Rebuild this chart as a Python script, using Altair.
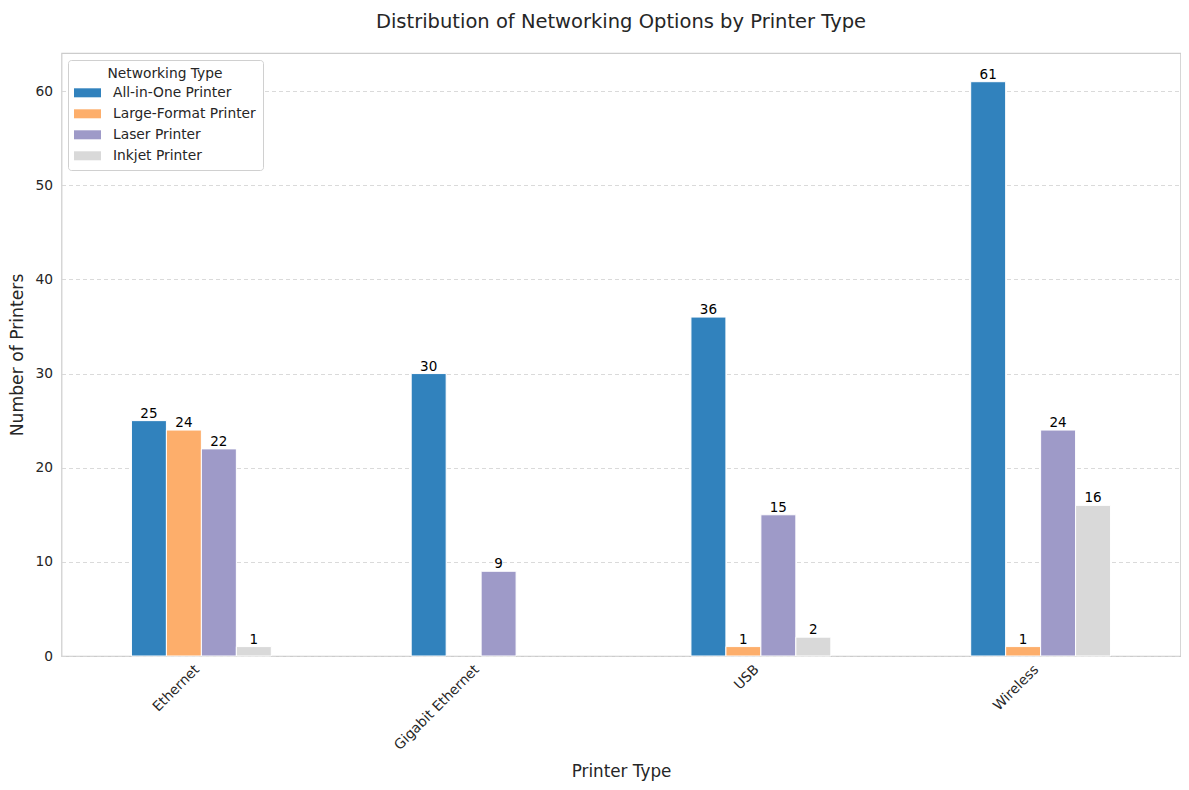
import pandas as pd
import altair as alt

# Data
connection_types = ["Ethernet", "Gigabit Ethernet", "USB", "Wireless"]
printer_types = ["All-in-One Printer", "Large-Format Printer", "Laser Printer", "Inkjet Printer"]
colors = ["#3182bd", "#fdae6b", "#9e9ac8", "#d9d9d9"]

all_in_one = [25, 30, 36, 61]
large_format = [24, None, 1, 1]
laser = [22, 9, 15, 24]
inkjet = [1, None, 2, 16]

# Build long table, drop the missing (empty) groups
rows = []
for name, values in zip(printer_types, [all_in_one, large_format, laser, inkjet]):
    for conn, v in zip(connection_types, values):
        if v is not None:
            rows.append({"conn": conn, "printer": name, "count": v})
df = pd.DataFrame(rows)

font = "DejaVu Sans"
text_color = "#262626"

x_enc = alt.X(
    "conn:N",
    sort=connection_types,
    title="Printer Type",
    scale=alt.Scale(paddingInner=0.5, paddingOuter=0.25),
    axis=alt.Axis(
        labelAngle=315, labelAlign="right", labelBaseline="middle",
        labelPadding=11, labelOffset=-4, labelFontSize=13.8,
        titleFontSize=16.8, titlePadding=11,
        domain=False, ticks=False, grid=False,
    ),
)
x_off = alt.XOffset("printer:N", sort=printer_types,
                    scale=alt.Scale(domain=printer_types))
y_enc = alt.Y(
    "count:Q",
    title="Number of Printers",
    scale=alt.Scale(domain=[0, 64.05], nice=False),
    axis=alt.Axis(
        values=[0, 10, 20, 30, 40, 50, 60], labelFontSize=13.8,
        titleFontSize=17.2, titlePadding=8, labelPadding=9,
        domain=False, ticks=False, grid=True,
        gridDash=[4, 3], gridColor="#d6d6d6", gridWidth=0.9,
    ),
)

bars = alt.Chart(df).mark_bar(stroke="white", strokeWidth=1).encode(
    x=x_enc,
    xOffset=x_off,
    y=y_enc,
    color=alt.Color(
        "printer:N",
        sort=printer_types,
        scale=alt.Scale(domain=printer_types, range=colors),
        legend=alt.Legend(
            title="Networking Type", orient="none", legendX=6.5, legendY=7,
            titleFontSize=13.8, titleFontWeight="normal", titleAnchor="middle",
            labelFontSize=13.8,
            symbolType="M-1.5,-0.5L1.5,-0.5L1.5,0.5L-1.5,0.5Z",
            symbolSize=324, symbolStrokeWidth=0, symbolOpacity=1,
            symbolOffset=3.5, labelOffset=16.5,
            rowPadding=5, padding=7, fillColor="white",
            strokeColor="#d0d0d0", cornerRadius=3,
            titlePadding=3,
        ),
    ),
)

labels = alt.Chart(df).mark_text(
    baseline="alphabetic", dy=-3, fontSize=13.5, color="black", font=font
).encode(
    x=alt.X("conn:N", sort=connection_types),
    xOffset=x_off,
    y="count:Q",
    text="count:Q",
)

chart = alt.layer(bars, labels).properties(
    width=1119,
    height=603,
    autosize=alt.AutoSizeParams(type="none"),
    padding={"left": 53.5, "top": 45, "right": 0, "bottom": 125},
    title=alt.TitleParams(
        "Distribution of Networking Options by Printer Type",
        fontSize=19.5, fontWeight="normal", font=font, color=text_color,
        anchor="middle", offset=21,
    ),
).configure(
    font=font,
).configure_axis(
    labelFont=font, titleFont=font, labelColor=text_color,
    titleColor=text_color, titleFontWeight="normal",
).configure_legend(
    labelFont=font, titleFont=font, labelColor=text_color, titleColor=text_color,
).configure_view(
    stroke="#cccccc", strokeWidth=1.2,
)

chart.save("out.html", embed_options={"renderer": "svg", "actions": False})
